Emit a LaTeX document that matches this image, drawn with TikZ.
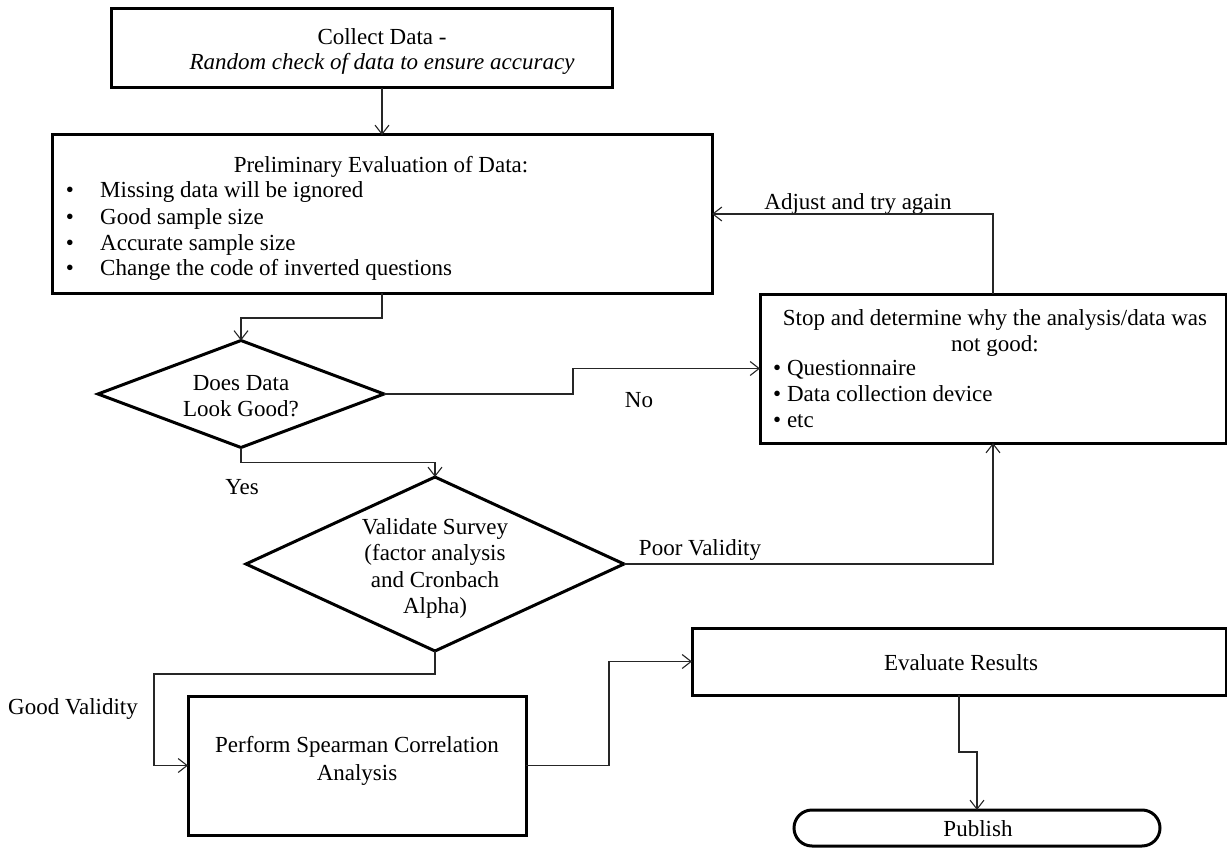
\documentclass[tikz,border=0pt]{standalone}
\usepackage{fontspec}
\setmainfont{Liberation Serif}
\usetikzlibrary{shapes.geometric,arrows.meta}
\begin{document}
\begin{tikzpicture}[x=1pt,y=-1pt,
  font=\fontsize{23}{26}\selectfont,
  box/.style={draw, line width=3pt, rectangle, inner sep=0, outer sep=0},
  dia/.style={draw, line width=3pt, diamond, inner sep=0, outer sep=0},
  txt/.style={inner sep=0, anchor=base},
  lbl/.style={inner sep=0, anchor=base west},
  arr/.style={draw=black!85, line width=1.2pt,
    -{Straight Barb[length=9pt,width=14pt,line width=1.1pt]}}]
\useasboundingbox (0,0) rectangle (1227,848);

% process boxes
\node[box, minimum width=501, minimum height=79] (collect) at (361.5,48.5) {};
\node[box, minimum width=660, minimum height=158] (prelim) at (382,214) {};
\node[box, minimum width=466, minimum height=149] (stop) at (993,368.5) {};
\node[box, minimum width=338, minimum height=139] (perform) at (357,765.5) {};
\node[box, minimum width=534, minimum height=67] (eval) at (959,661.5) {};
\node[box, rounded corners=18pt, minimum width=366, minimum height=36] (publish) at (977,828) {};

% decisions
\node[dia, minimum width=286, minimum height=107] (d1) at (241,394) {};
\node[dia, minimum width=378, minimum height=174] (d2) at (435,564) {};

% box texts
\node[txt] (t1a) at (382,45) {Collect Data -};
\node[txt] (t1b) at (382,70) {\itshape Random check of data to ensure accuracy};

\node[txt] (t2) at (381,173) {Preliminary Evaluation of Data:};
\foreach \y/\s [count=\i] in {197/Missing data will be ignored,
                              224/Good sample size,
                              250/Accurate sample size,
                              275/Change the code of inverted questions}{
  \node[txt] (b\i) at (70,\y) {•};
  \node[lbl] (p\i) at (100,\y) {\s};
}

\node[txt] (t3a) at (995,325) {Stop and determine why the analysis/data was};
\node[txt] (t3b) at (995,351) {not good:};
\node[lbl] (q1) at (773,375) {• Questionnaire};
\node[lbl] (q2) at (773,401) {• Data collection device};
\node[lbl] (q3) at (773,427) {• etc};

\node[txt] (t4a) at (241,390) {Does Data};
\node[txt] (t4b) at (241,416) {Look Good?};

\node[txt] (t5a) at (435,534) {Validate Survey};
\node[txt] (t5b) at (435,560) {(factor analysis};
\node[txt] (t5c) at (435,587) {and Cronbach};
\node[txt] (t5d) at (435,613) {Alpha)};

\node[txt] (t6a) at (357,752) {Perform Spearman Correlation};
\node[txt] (t6b) at (357,780) {Analysis};
\node[txt] (t7) at (961,670) {Evaluate Results};
\node[txt] (t8) at (978,836) {Publish};

% connector labels
\node[txt] (adj) at (858,209) {Adjust and try again};
\node[txt] (no) at (639,407) {No};
\node[txt] (yes) at (242,494) {Yes};
\node[txt] (poor) at (700,555) {Poor Validity};
\node[txt] (good) at (73,714) {Good Validity};

% connectors
\draw[arr] (collect.south -| prelim.north) -- (prelim.north);
\draw[arr] (prelim.south) -- ++(0,25) -| (d1.north);
\draw[arr] (d1.east) -- ++(189,0) |- (stop.west);
\draw[arr] (d1.south) -- ++(0,15) -| (d2.north);
\draw[arr] (d2.east) -| (stop.south);
\draw[arr] (stop.north) |- (prelim.east);
\draw[arr] (d2.south) -- ++(0,23) -- ++(-281,0) |- (perform.west);
\draw[arr] (perform.east) -- ++(83,0) |- (eval.west);
\draw[arr] (eval.south) -- ++(0,57) -| (publish.north);
\end{tikzpicture}
\end{document}
